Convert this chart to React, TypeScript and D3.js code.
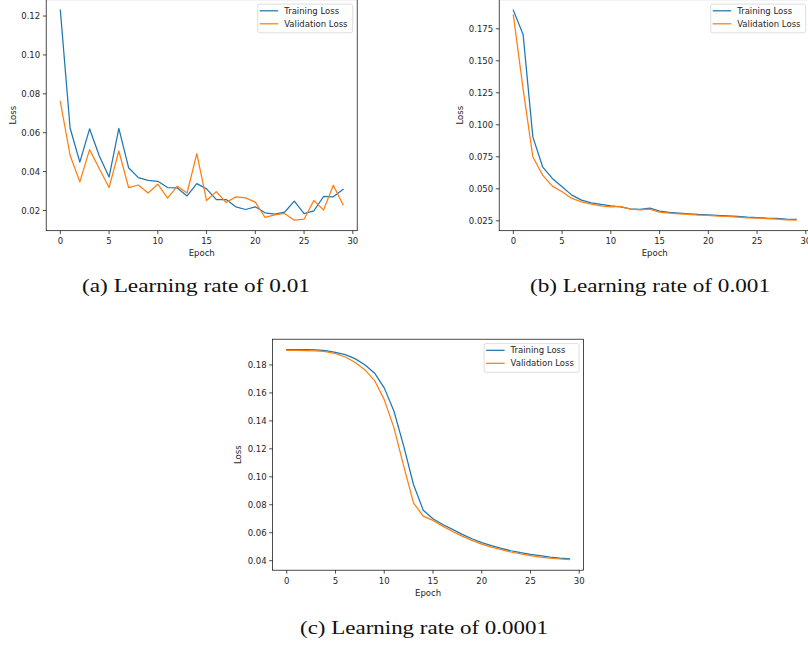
import React from "react";
import * as d3 from "d3";

const epochs = [0,1,2,3,4,5,6,7,8,9,10,11,12,13,14,15,16,17,18,19,20,21,22,23,24,25,26,27,28,29];

const trainA = [0.123,0.0624,0.0449,0.062,0.048,0.0372,0.0622,0.042,0.0369,0.0355,0.035,0.0318,0.0316,0.0275,0.0338,0.0311,0.0256,0.0256,0.0219,0.0205,0.0219,0.0188,0.0181,0.0191,0.0248,0.0184,0.0198,0.0272,0.027,0.0308];
const valA = [0.076,0.0484,0.0347,0.0513,0.0415,0.0318,0.0506,0.0318,0.0331,0.029,0.0335,0.0263,0.0325,0.029,0.0492,0.0251,0.0297,0.0241,0.027,0.0265,0.0243,0.0164,0.0177,0.0185,0.015,0.0155,0.0251,0.0202,0.033,0.0229];

const trainB = [0.1895,0.1706,0.0906,0.0672,0.0581,0.0516,0.0451,0.0412,0.0391,0.0378,0.0367,0.0359,0.0344,0.0339,0.0349,0.0326,0.0316,0.031,0.0305,0.03,0.0297,0.0292,0.0289,0.0284,0.0279,0.0276,0.0271,0.0269,0.0263,0.0261];
const valB = [0.1857,0.128,0.075,0.0607,0.0521,0.0477,0.0425,0.0398,0.038,0.0367,0.0359,0.0362,0.0342,0.0336,0.0341,0.0318,0.031,0.0305,0.03,0.0295,0.0292,0.0286,0.0284,0.0279,0.0274,0.0271,0.0268,0.0263,0.0258,0.0255];

const trainC = [0.1909,0.1909,0.1909,0.1907,0.1902,0.189,0.1874,0.1845,0.1802,0.1743,0.1636,0.1469,0.1219,0.0945,0.0761,0.07,0.0659,0.0624,0.0588,0.0557,0.0529,0.0507,0.0488,0.0471,0.0457,0.0445,0.0436,0.0426,0.0419,0.0414];
const valC = [0.1904,0.1904,0.1902,0.19,0.1895,0.1881,0.1857,0.1819,0.1766,0.169,0.1552,0.135,0.1076,0.0814,0.0719,0.0688,0.0647,0.0609,0.0576,0.0545,0.0519,0.0497,0.0479,0.0462,0.0448,0.0436,0.0426,0.0419,0.0412,0.0407];

const xTicks = [0,5,10,15,20,25,30];
const yTicksA = [0.02,0.04,0.06,0.08,0.10,0.12];
const yTicksB = [0.025,0.05,0.075,0.1,0.125,0.15,0.175];
const yTicksC = [0.04,0.06,0.08,0.10,0.12,0.14,0.16,0.18];

const seriesNames = ["Training Loss", "Validation Loss"];
const colors = ["#1f77b4", "#ff7f0e"];
const captions = ["(a) Learning rate of 0.01", "(b) Learning rate of 0.001", "(c) Learning rate of 0.0001"];

const panels = [
  { train: trainA, val: valA, yTicks: yTicksA, digits: 2, left: 46.2, top: -0.3, yLabelOff: 33.5, caption: captions[0], capX: 196, capY: 292, capW: 228 },
  { train: trainB, val: valB, yTicks: yTicksB, digits: 3, left: 499.2, top: -0.3, yLabelOff: 39.2, caption: captions[1], capX: 650, capY: 292, capW: 240 },
  { train: trainC, val: valC, yTicks: yTicksC, digits: 2, left: 272.6, top: 339.2, yLabelOff: 34.3, caption: captions[2], capX: 424, capY: 634, capW: 248 },
];

const W = 311;
const H = 231;
const FONT = "DejaVu Sans, sans-serif";
const FS = 8.5;
const TXT = "#262626";

function Panel({ p }: { p: any }) {
  const n = epochs.length;
  const xPad = (n - 1) * 0.05;
  const x = d3.scaleLinear().domain([epochs[0] - xPad, epochs[n - 1] + xPad]).range([p.left, p.left + W]);
  const all = [...p.train, ...p.val];
  const mn = d3.min(all) as number;
  const mx = d3.max(all) as number;
  const yPad = (mx - mn) * 0.05;
  const y = d3.scaleLinear().domain([mn - yPad, mx + yPad]).range([p.top + H, p.top]);
  const line = d3.line<number>().x((_, i) => x(epochs[i])).y((d) => y(d));
  const bottom = p.top + H;
  const right = p.left + W;
  const fmt = d3.format(`.${p.digits}f`);
  const legX = right - 99.5;
  const legY = p.top + 4.4;
  return (
    <g>
      {[p.train, p.val].map((s: number[], k: number) => (
        <path key={k} d={line(s) as string} fill="none" stroke={colors[k]} strokeWidth={1.25} strokeLinejoin="round" strokeLinecap="square" />
      ))}
      <rect x={p.left} y={p.top} width={W} height={H} fill="none" stroke="#000" strokeWidth={0.7} />
      {xTicks.map((t) => (
        <g key={t}>
          <line x1={x(t)} x2={x(t)} y1={bottom} y2={bottom + 3.4} stroke="#000" strokeWidth={0.7} />
          <text x={x(t)} y={bottom + 13.4} fontSize={FS} fontFamily={FONT} fill={TXT} textAnchor="middle">{t}</text>
        </g>
      ))}
      {p.yTicks.map((t: number) => (
        <g key={t}>
          <line x1={p.left - 3.4} x2={p.left} y1={y(t)} y2={y(t)} stroke="#000" strokeWidth={0.7} />
          <text x={p.left - 6} y={y(t)} dy="0.36em" fontSize={FS} fontFamily={FONT} fill={TXT} textAnchor="end">{fmt(t)}</text>
        </g>
      ))}
      <text x={p.left + W / 2} y={bottom + 22.4} dy="0.36em" fontSize={FS} fontFamily={FONT} fill={TXT} textAnchor="middle">Epoch</text>
      <text transform={`translate(${p.left - p.yLabelOff},${p.top + H / 2}) rotate(-90)`} dy="0.36em" fontSize={FS} fontFamily={FONT} fill={TXT} textAnchor="middle">Loss</text>
      <rect x={legX} y={legY} width={95} height={28.7} rx={2} fill="#fff" fillOpacity={0.8} stroke="#d0d0d0" strokeWidth={0.7} />
      {seriesNames.map((nm, k) => (
        <g key={nm}>
          <line x1={legX + 2} x2={legX + 20.5} y1={legY + 6.7 + k * 13} y2={legY + 6.7 + k * 13} stroke={colors[k]} strokeWidth={1.25} />
          <text x={legX + 26.5} y={legY + 6.7 + k * 13} dy="0.36em" fontSize={FS} fontFamily={FONT} fill={TXT}>{nm}</text>
        </g>
      ))}
      <text x={p.capX} y={p.capY} fontSize={19} fontFamily="Liberation Serif, serif" fill="#111" textAnchor="middle" textLength={p.capW} lengthAdjust="spacingAndGlyphs">{p.caption}</text>
    </g>
  );
}

export default function App() {
  return (
    <svg width={808} height={645} style={{ position: "absolute", left: 0, top: 0, background: "#fff" }}>
      <rect x={0} y={0} width={808} height={645} fill="#fff" />
      {panels.map((p, i) => (
        <Panel key={i} p={p} />
      ))}
    </svg>
  );
}
